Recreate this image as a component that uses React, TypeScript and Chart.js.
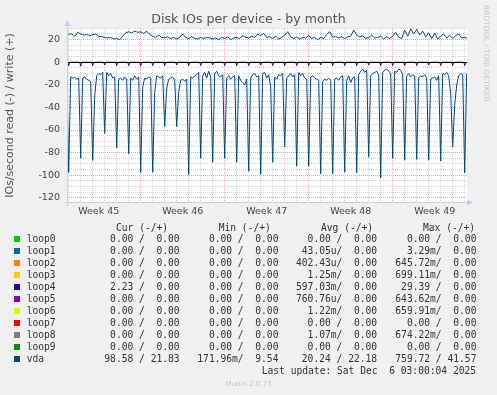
import React, { useEffect, useRef } from 'react';
import { Chart, registerables } from 'chart.js';

Chart.register(...registerables);

const TITLE = 'Disk IOs per device - by month';
const Y_TITLE = 'IOs/second read (-) / write (+)';
const SIDE_TEXT = 'RRDTOOL / TOBI OETIKER';
const FOOTER = 'Munin 2.0.73';
const LAST_UPDATE = 'Last update: Sat Dec  6 03:00:04 2025';

// x axis in days; day 6, 13, 20, 27 are Monday 00:00
const weekLabels = ['Week 45', 'Week 46', 'Week 47', 'Week 48', 'Week 49'];
const weekCenters = [2.5, 9.5, 16.5, 23.5, 30.5];
const weekStarts = [6, 13, 20, 27];
const yTicks = [-120, -100, -80, -60, -40, -20, 0, 20];
const X_MIN = -0.1417;
const X_MAX = 33.1917;
const Y_MIN = -124.6;
const Y_MAX = 30.3;

// vda read (negative), sampled every 4 hours from day -1/6
const READ_START = -1 / 6;
const READ_STEP = 1 / 6;
const vdaRead = [
  -8,
  -97.5, -13, -14, -13.5, -15, -14,
  -85, -14, -13, -15, -16, -17,
  -87, -30, -12, -10, -11, -9,
  -63, -9, -12, -10, -14, -13,
  -76, -15, -14, -16, -13, -15,
  -81, -14, -16, -12, -15, -13,
  -97.5, -22, -14, -15, -13, -14,
  -97.5, -27, -12, -13, -14, -12,
  -57, -23, -15, -14, -13, -16,
  -57, -26, -16, -15, -17, -15,
  -99.5, -13, -14, -12, -11, -9,
  -85, -12, -9, -14, -8, -13,
  -88.5, -10, -8, -12, -13, -11,
  -85, -14, -12, -15, -13, -12,
  -88.5, -12, -16, -18, -20, -15,
  -96.5, -14, -11, -10, -13, -12,
  -99.3, -10, -9, -14, -11, -22,
  -88.5, -13, -15, -11, -12, -10,
  -75, -14, -12, -10, -13, -11,
  -92, -9, -12, -10, -14, -15,
  -92, -13, -12, -14, -15, -16,
  -98.7, -17, -15, -16, -14, -16,
  -98.7, -15, -14, -16, -13, -12,
  -97.3, -16, -12, -18, -14, -13,
  -97.8, -11, -8, -6, -9, -7,
  -84, -12, -10, -9, -8, -11,
  -102.5, -9, -7, -6, -8, -10,
  -85, -8, -9, -6, -7, -11,
  -86.7, -12, -10, -13, -11, -12,
  -86, -14, -12, -13, -11, -14,
  -86.7, -15, -14, -13, -16, -12,
  -87.5, -10, -11, -9, -12, -28,
  -75, -38, -20, -12, -10, -11,
  -98, -10, -9,
];

// vda write (positive), sampled every 6 hours from day -0.25
const WRITE_START = -0.25;
const WRITE_STEP = 0.25;
const vdaWrite = [
  24.5,
  24.8, 25.2, 23, 26.5,
  25, 24, 24.5, 23.5,
  24.5, 25, 23, 22.5,
  22, 21.5, 22, 20.5,
  21, 20, 23, 26,
  27, 26, 27.5, 26.5,
  27, 25.5, 27.5, 24.5,
  23, 22, 24, 22,
  21.5, 22.5, 21, 22,
  20.5, 22, 25, 22,
  21, 22.5, 21, 20.5,
  22, 21, 22, 21.5,
  20.5, 21.5, 20, 22,
  21, 22.5, 20, 21.5,
  22, 21, 23.5, 22,
  21.5, 23, 22, 25,
  23.5, 25.5, 22, 22.5,
  21, 23, 20.5, 22,
  24, 27, 22.5, 21,
  22.5, 20.5, 22, 21.5,
  23.5, 21, 22, 20,
  22, 21, 24.5, 27,
  22, 23, 21.5, 22.5,
  21, 22.5, 23, 28.5,
  24, 22.5, 23.5, 21,
  22, 24, 21.5, 22,
  23, 20.5, 22.5, 21,
  23, 26.5, 22, 21,
  28.5, 23, 29.5, 25,
  29, 24, 27.5, 22.5,
  26, 21, 25.5, 20.5,
  23, 25, 21.5, 24,
  21, 23.5, 25, 21.5,
  22, 21, 22, 21,
];

// loop4 read: one short dip per day (day 0..33), zero otherwise
const loop4Read = [
  -3, -3.5, -3, -2.5, -3, -3, -3.5, -3, -3, -2.5, -3, -3, -2.5, -3, -3, -3, -2.5,
  -3, -3, -3, -3, -2.5, -3, -3, -3, -2.5, -3, -3, -3, -3, -2.5, -3, -3, -3,
];

// legend table
const devices = ['loop0', 'loop1', 'loop2', 'loop3', 'loop4', 'loop5', 'loop6', 'loop7', 'loop8', 'loop9', 'vda'];
const deviceColors = ['#00CC00', '#0066B3', '#FF8000', '#FFCC00', '#330099', '#990099', '#CCFF00', '#FF0000', '#808080', '#008F00', '#00487D'];
const curCol = [
  '  0.00 /  0.00 ', '  0.00 /  0.00 ', '  0.00 /  0.00 ', '  0.00 /  0.00 ', '  2.23 /  0.00 ',
  '  0.00 /  0.00 ', '  0.00 /  0.00 ', '  0.00 /  0.00 ', '  0.00 /  0.00 ', '  0.00 /  0.00 ', ' 98.58 / 21.83 ',
];
const minCol = [
  '  0.00 /  0.00 ', '  0.00 /  0.00 ', '  0.00 /  0.00 ', '  0.00 /  0.00 ', '  0.00 /  0.00 ',
  '  0.00 /  0.00 ', '  0.00 /  0.00 ', '  0.00 /  0.00 ', '  0.00 /  0.00 ', '  0.00 /  0.00 ', '171.96m/  9.54 ',
];
const avgCol = [
  '  0.00 /  0.00 ', ' 43.05u/  0.00 ', '402.43u/  0.00 ', '  1.25m/  0.00 ', '597.03m/  0.00 ',
  '760.76u/  0.00 ', '  1.22m/  0.00 ', '  0.00 /  0.00 ', '  1.07m/  0.00 ', '  0.00 /  0.00 ', ' 20.24 / 22.18 ',
];
const maxCol = [
  '  0.00 /  0.00 ', '  3.29m/  0.00 ', '645.72m/  0.00 ', '699.11m/  0.00 ', ' 29.39 /  0.00 ',
  '643.62m/  0.00 ', '659.91m/  0.00 ', '  0.00 /  0.00 ', '674.22m/  0.00 ', '  0.00 /  0.00 ', '759.72 / 41.57 ',
];
const headers = ['Cur (-/+)', 'Min (-/+)', 'Avg (-/+)', 'Max (-/+)'];

const BG = '#F0F0F0';
const MINOR = '#d4d4d4';
const MAJOR = '#f0a0a0';
const AXIS = '#c6cef4';
const TEXT = '#333333';
const MONO = '"DejaVu Sans Mono", monospace';
const SANS = '"DejaVu Sans", sans-serif';

const muninPlugin = {
  id: 'munin',
  beforeDraw(chart: any) {
    const { ctx, chartArea: a } = chart;
    ctx.save();
    ctx.fillStyle = '#ffffff';
    ctx.fillRect(a.left, a.top, a.right - a.left, a.bottom - a.top);
    ctx.restore();
  },
  beforeDatasetsDraw(chart: any) {
    const { ctx, chartArea: a, scales } = chart;
    const xs = scales.x;
    const ys = scales.y;
    ctx.save();
    ctx.lineWidth = 1;
    ctx.setLineDash([1, 1]);
    // minor grid
    ctx.strokeStyle = MINOR;
    ctx.beginPath();
    for (let d = Math.ceil(X_MIN); d <= X_MAX; d++) {
      const px = Math.floor(xs.getPixelForValue(d)) + 0.5;
      ctx.moveTo(px, a.top);
      ctx.lineTo(px, a.bottom);
    }
    for (let v = -120; v <= Y_MAX; v += 5) {
      const py = Math.floor(ys.getPixelForValue(v)) + 0.5;
      ctx.moveTo(a.left, py);
      ctx.lineTo(a.right, py);
    }
    ctx.stroke();
    // major grid
    ctx.strokeStyle = MAJOR;
    ctx.beginPath();
    for (const d of weekStarts) {
      const px = Math.floor(xs.getPixelForValue(d)) + 0.5;
      ctx.moveTo(px, a.top);
      ctx.lineTo(px, a.bottom);
    }
    for (const v of yTicks) {
      if (v === 0) continue;
      const py = Math.floor(ys.getPixelForValue(v)) + 0.5;
      ctx.moveTo(a.left, py);
      ctx.lineTo(a.right, py);
    }
    ctx.stroke();
    ctx.restore();
  },
  afterDatasetsDraw(chart: any) {
    const { ctx, chartArea: a, scales } = chart;
    const ys = scales.y;
    ctx.save();
    // zero line
    const pz = Math.floor(ys.getPixelForValue(0)) + 0.5;
    ctx.strokeStyle = '#000000';
    ctx.lineWidth = 1;
    ctx.beginPath();
    ctx.moveTo(a.left, pz);
    ctx.lineTo(a.right, pz);
    ctx.stroke();
    // axes
    ctx.strokeStyle = AXIS;
    ctx.fillStyle = AXIS;
    const ax = a.left + 0.5;
    const ay = a.bottom - 0.5;
    ctx.beginPath();
    ctx.moveTo(ax, ay + 3);
    ctx.lineTo(ax, a.top - 4);
    ctx.moveTo(ax - 3, ay);
    ctx.lineTo(a.right + 2, ay);
    ctx.stroke();
    ctx.beginPath();
    ctx.moveTo(ax, a.top - 8);
    ctx.lineTo(ax - 3, a.top - 2);
    ctx.lineTo(ax + 3, a.top - 2);
    ctx.closePath();
    ctx.fill();
    ctx.beginPath();
    ctx.moveTo(a.right + 6, ay);
    ctx.lineTo(a.right, ay - 3);
    ctx.lineTo(a.right, ay + 3);
    ctx.closePath();
    ctx.fill();
    ctx.restore();
  },
};

function Txt(props: { x: number; y: number; text: string; size?: number; color?: string; font?: string }) {
  const size = props.size ?? 9.63;
  return (
    <div
      style={{
        position: 'absolute',
        left: props.x,
        top: props.y - 6,
        height: 12,
        lineHeight: '12px',
        fontFamily: props.font ?? MONO,
        fontSize: size,
        color: props.color ?? TEXT,
        whiteSpace: 'pre',
      }}
    >
      {props.text}
    </div>
  );
}

export default function App() {
  const ref = useRef<HTMLCanvasElement>(null);

  useEffect(() => {
    if (!ref.current) return;
    const readPoints = vdaRead.map((y, i) => ({ x: READ_START + i * READ_STEP, y }));
    const writePoints = vdaWrite.map((y, i) => ({ x: WRITE_START + i * WRITE_STEP, y }));
    const loop4Points = loop4Read.flatMap((y, k) => [
      { x: k - 1 / 12, y: 0 },
      { x: k, y },
      { x: k + 1 / 12, y: 0 },
    ]);
    const chart = new Chart(ref.current, {
      type: 'line',
      data: {
        datasets: [
          { label: 'vda write', data: writePoints, borderColor: deviceColors[10], borderWidth: 1, order: 1 },
          { label: 'vda read', data: readPoints, borderColor: deviceColors[10], borderWidth: 1, order: 2 },
          { label: 'loop4 read', data: loop4Points, borderColor: deviceColors[4], borderWidth: 1, order: 3 },
        ],
      },
      options: {
        responsive: false,
        animation: false,
        events: [],
        parsing: false,
        normalized: true,
        elements: { point: { radius: 0 }, line: { tension: 0, fill: false } },
        layout: { padding: { left: 0, right: 30, top: 28, bottom: 172 } },
        plugins: { legend: { display: false }, tooltip: { enabled: false }, title: { display: false } },
        scales: {
          x: {
            type: 'linear',
            min: X_MIN,
            max: X_MAX,
            grid: { display: false, drawTicks: false },
            border: { display: false },
            afterBuildTicks: (s: any) => {
              s.ticks = weekCenters.map((v) => ({ value: v }));
            },
            afterFit: (s: any) => {
              s.height = 20;
            },
            ticks: {
              autoSkip: false,
              maxRotation: 0,
              padding: 3,
              color: '#444',
              font: { family: SANS, size: 9.5 },
              callback: (_v: any, i: number) => weekLabels[i],
            },
          },
          y: {
            type: 'linear',
            min: Y_MIN,
            max: Y_MAX,
            grid: { display: false, drawTicks: false },
            border: { display: false },
            afterBuildTicks: (s: any) => {
              s.ticks = yTicks.map((v) => ({ value: v }));
            },
            afterFit: (s: any) => {
              s.width = 67;
            },
            ticks: {
              autoSkip: false,
              padding: 7,
              color: '#444',
              font: { family: SANS, size: 9.5 },
              callback: (v: any) => String(v),
            },
            title: {
              display: true,
              text: Y_TITLE,
              color: '#555',
              font: { family: SANS, size: 11 },
              padding: { top: 4, bottom: 0 },
            },
          },
        },
      },
      plugins: [muninPlugin],
    } as any);
    return () => chart.destroy();
  }, []);

  const colStarts = [98.5, 197.3, 296, 395.3];
  const headerStarts = [116, 218.7, 321, 423];
  const cols = [curCol, minCol, avgCol, maxCol];

  return (
    <div style={{ position: 'absolute', left: 0, top: 0, width: 497, height: 395, background: BG, overflow: 'hidden' }}>
      <canvas ref={ref} width={497} height={395} style={{ position: 'absolute', left: 0, top: 0, display: 'block' }} />
      <div
        style={{
          position: 'absolute',
          left: 0,
          top: 11,
          width: 497,
          textAlign: 'center',
          fontFamily: SANS,
          fontSize: 12.6,
          lineHeight: '16px',
          color: '#555',
        }}
      >
        {TITLE}
      </div>
      <div
        style={{
          position: 'absolute',
          left: 481,
          top: 5,
          writingMode: 'vertical-rl',
          fontFamily: SANS,
          fontSize: 7.5,
          lineHeight: '10px',
          color: '#c8c8c8',
          whiteSpace: 'pre',
        }}
      >
        {SIDE_TEXT}
      </div>
      {headers.map((h, i) => (
        <Txt key={h} x={headerStarts[i]} y={227.7} text={h} />
      ))}
      {devices.map((d, r) => {
        const cy = 239.3 + r * 12;
        return (
          <React.Fragment key={d}>
            <div style={{ position: 'absolute', left: 14, top: cy - 3, width: 6, height: 6, background: deviceColors[r] }} />
            <Txt x={26.7} y={cy} text={d} />
            {cols.map((c, j) => (
              <Txt key={j} x={colStarts[j]} y={cy} text={c[r]} />
            ))}
          </React.Fragment>
        );
      })}
      <Txt x={261.7} y={371.3} text={LAST_UPDATE} />
      <div
        style={{
          position: 'absolute',
          left: 0,
          top: 379,
          width: 497,
          textAlign: 'center',
          fontFamily: SANS,
          fontSize: 7,
          lineHeight: '10px',
          color: '#c4c4c4',
        }}
      >
        {FOOTER}
      </div>
    </div>
  );
}
